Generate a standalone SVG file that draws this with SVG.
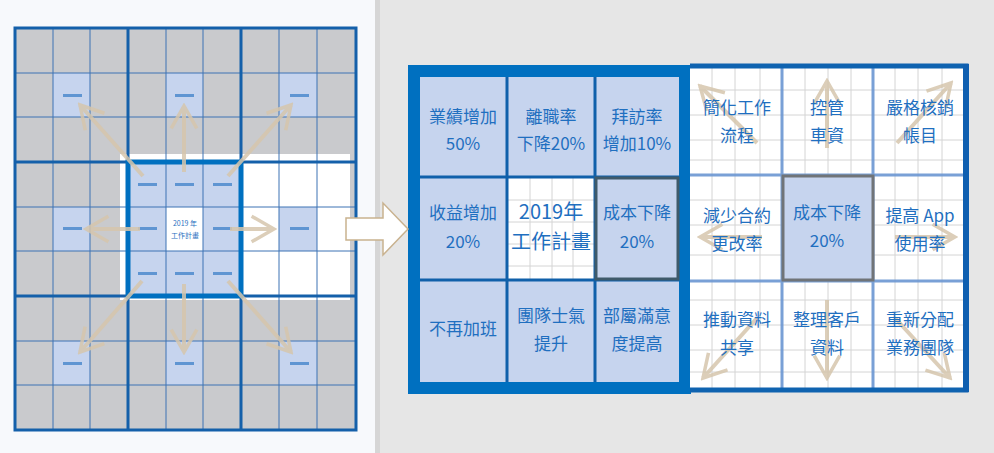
<svg xmlns="http://www.w3.org/2000/svg" width="994" height="453" viewBox="0 0 994 453">
<defs>
<style>
.g{fill:#c9cacd}.lb{fill:#c6d4ee}.w{fill:#fff}
.thin{stroke:#3c72b4;stroke-width:1;fill:none}
.blk{stroke:#1460aa;stroke-width:3;fill:none}
.d{fill:#5f95d2}
.arr{stroke:#d6c6ad;stroke-width:4;fill:none;opacity:0.85}
.t{font-family:"Noto Sans CJK TC","Noto Sans CJK SC",sans-serif;font-size:17px;fill:#1f6fc0;text-anchor:middle}
.fg{stroke:#d4d4d4;stroke-width:1}
</style>
<marker id="ch" viewBox="0 0 20 20" refX="18" refY="10" markerWidth="8" markerHeight="8" markerUnits="strokeWidth" orient="auto">
<polyline points="4,2 18,10 4,18" fill="none" stroke="#d6c6ad" stroke-width="2.2"/>
</marker>
</defs>
<rect width="994" height="453" fill="#e6e6e6"/>
<rect width="375" height="453" fill="#f7f9fc"/>
<rect x="375" width="5" height="453" fill="#d6d6d6"/>

<g id="left-grid">
<rect x="15" y="28" width="341" height="402" class="g"/>
<rect x="120" y="154" width="230" height="146" class="w"/>
<rect x="128" y="162" width="113" height="134" class="lb"/>
<rect x="166" y="207" width="37" height="44" class="w"/>
<g class="lb">
<rect x="53" y="73" width="37" height="44"/><rect x="166" y="73" width="37" height="44"/><rect x="279" y="73" width="38" height="44"/>
<rect x="53" y="207" width="37" height="44"/><rect x="279" y="207" width="38" height="44"/>
<rect x="53" y="341" width="37" height="44"/><rect x="166" y="341" width="37" height="44"/><rect x="279" y="341" width="38" height="44"/>
</g>
<path class="thin" d="M53 28V430M90 28V430M166 28V430M203 28V430M279 28V430M317 28V430M15 73H356M15 117H356M15 207H356M15 251H356M15 341H356M15 385H356"/>
<path class="blk" d="M15 28H356V430H15ZM128 28V430M241 28V430M15 162H356M15 296H356"/>
<rect x="128" y="162" width="113" height="134" fill="none" stroke="#0070c0" stroke-width="5"/>
<g class="d">
<rect x="63" y="94" width="19" height="3"/><rect x="175" y="94" width="19" height="3"/><rect x="290" y="94" width="19" height="3"/>
<rect x="63" y="227" width="19" height="3"/><rect x="290" y="227" width="19" height="3"/>
<rect x="63" y="362" width="19" height="3"/><rect x="175" y="362" width="19" height="3"/><rect x="290" y="362" width="19" height="3"/>
<rect x="138" y="183" width="19" height="3"/><rect x="175" y="183" width="19" height="3"/><rect x="213" y="183" width="19" height="3"/>
<rect x="138" y="227" width="19" height="3"/><rect x="213" y="227" width="19" height="3"/>
<rect x="138" y="272" width="19" height="3"/><rect x="175" y="272" width="19" height="3"/><rect x="213" y="272" width="19" height="3"/>
</g>
<text x="185" y="226" class="t" style="font-size:7px">2019 年</text>
<text x="185" y="238" class="t" style="font-size:7px">工作計畫</text>
</g>

<g id="goal-grid">
<rect x="408" y="65" width="283" height="329" fill="#0070c0"/>
<rect x="420" y="77" width="259" height="305" class="lb"/>
<rect x="508" y="178" width="86" height="102" class="w"/>
<path class="fg" d="M530 178V280M552 178V280M573 178V280M508 200H594M508 222H594M508 244H594M508 266H594"/>
<path d="M507 77V382M595 77V382M420 177H679M420 280H679" stroke="#1060aa" stroke-width="3"/>
<rect x="596" y="178" width="82" height="101" fill="none" stroke="#3f5a6a" stroke-width="3"/>
<text x="463" y="123" class="t">業績增加</text><text x="463" y="150" class="t">50%</text>
<text x="551" y="123" class="t">離職率</text><text x="551" y="150" class="t">下降20%</text>
<text x="637" y="123" class="t">拜訪率</text><text x="637" y="150" class="t">增加10%</text>
<text x="463" y="219" class="t">收益增加</text><text x="463" y="248" class="t">20%</text>
<text x="551" y="219" class="t" style="font-size:20px">2019年</text><text x="551" y="249" class="t" style="font-size:20px">工作計畫</text>
<text x="637" y="219" class="t">成本下降</text><text x="637" y="248" class="t">20%</text>
<text x="463" y="335" class="t">不再加班</text>
<text x="551" y="322" class="t">團隊士氣</text><text x="551" y="350" class="t">提升</text>
<text x="637" y="322" class="t">部屬滿意</text><text x="637" y="350" class="t">度提高</text>
</g>

<g id="cost-grid">
<rect x="690" y="66" width="276" height="324" class="w"/>
<path class="fg" d="M712 66V390M735 66V390M760 66V390M805 66V390M828 66V390M851 66V390M895 66V390M918 66V390M942 66V390M690 90H966M690 115H966M690 140H966M690 160H966M690 200H966M690 225H966M690 255H966M690 300H966M690 325H966M690 350H966M690 372H966"/>
<path d="M782 66V390M873 66V390M690 175H966M690 281H966" stroke="#6b96d2" stroke-width="3" opacity="0.9"/>
<rect x="783" y="176" width="90" height="104" class="lb" stroke="#707478" stroke-width="3"/>
<path d="M690 66H966V390H690" fill="none" stroke="#0f63b0" stroke-width="5"/>
<line x1="966" y1="64" x2="966" y2="392" stroke="#0f5fb0" stroke-width="6"/>
</g>

<g id="connectors">
<line class="arr" x1="143" y1="176" x2="80" y2="105" marker-end="url(#ch)"/>
<line class="arr" x1="184" y1="172" x2="184" y2="106" marker-end="url(#ch)"/>
<line class="arr" x1="228" y1="176" x2="291" y2="105" marker-end="url(#ch)"/>
<line class="arr" x1="140" y1="229" x2="86" y2="229" marker-end="url(#ch)"/>
<line class="arr" x1="230" y1="229" x2="274" y2="229" marker-end="url(#ch)"/>
<line class="arr" x1="142" y1="281" x2="80" y2="352" marker-end="url(#ch)"/>
<line class="arr" x1="184" y1="284" x2="184" y2="352" marker-end="url(#ch)"/>
<line class="arr" x1="228" y1="281" x2="291" y2="352" marker-end="url(#ch)"/>
<polygon points="346,218 383,218 383,203 408,229 383,255 383,240 346,240" fill="#fff" stroke="#c9b28f" stroke-width="1.5"/>
<line class="arr" x1="757" y1="143" x2="700" y2="86" marker-end="url(#ch)"/>
<line class="arr" x1="827" y1="148" x2="827" y2="81" marker-end="url(#ch)"/>
<line class="arr" x1="897" y1="143" x2="951" y2="83" marker-end="url(#ch)"/>
<line class="arr" x1="762" y1="237" x2="700" y2="237" marker-end="url(#ch)"/>
<line class="arr" x1="895" y1="237" x2="955" y2="237" marker-end="url(#ch)"/>
<line class="arr" x1="757" y1="318" x2="703" y2="378" marker-end="url(#ch)"/>
<line class="arr" x1="827" y1="300" x2="827" y2="378" marker-end="url(#ch)"/>
<line class="arr" x1="895" y1="318" x2="950" y2="378" marker-end="url(#ch)"/>
</g>

<g id="cost-labels">
<text x="737" y="114" class="t">簡化工作</text><text x="737" y="142" class="t">流程</text>
<text x="827" y="114" class="t">控管</text><text x="827" y="142" class="t">車資</text>
<text x="920" y="114" class="t">嚴格核銷</text><text x="920" y="142" class="t">帳目</text>
<text x="737" y="222" class="t">減少合約</text><text x="737" y="250" class="t">更改率</text>
<text x="827" y="219" class="t">成本下降</text><text x="827" y="247" class="t">20%</text>
<text x="920" y="222" class="t">提高 App</text><text x="920" y="250" class="t">使用率</text>
<text x="737" y="326" class="t">推動資料</text><text x="737" y="354" class="t">共享</text>
<text x="827" y="326" class="t">整理客戶</text><text x="827" y="354" class="t">資料</text>
<text x="920" y="326" class="t">重新分配</text><text x="920" y="354" class="t">業務團隊</text>
</g>
</svg>
